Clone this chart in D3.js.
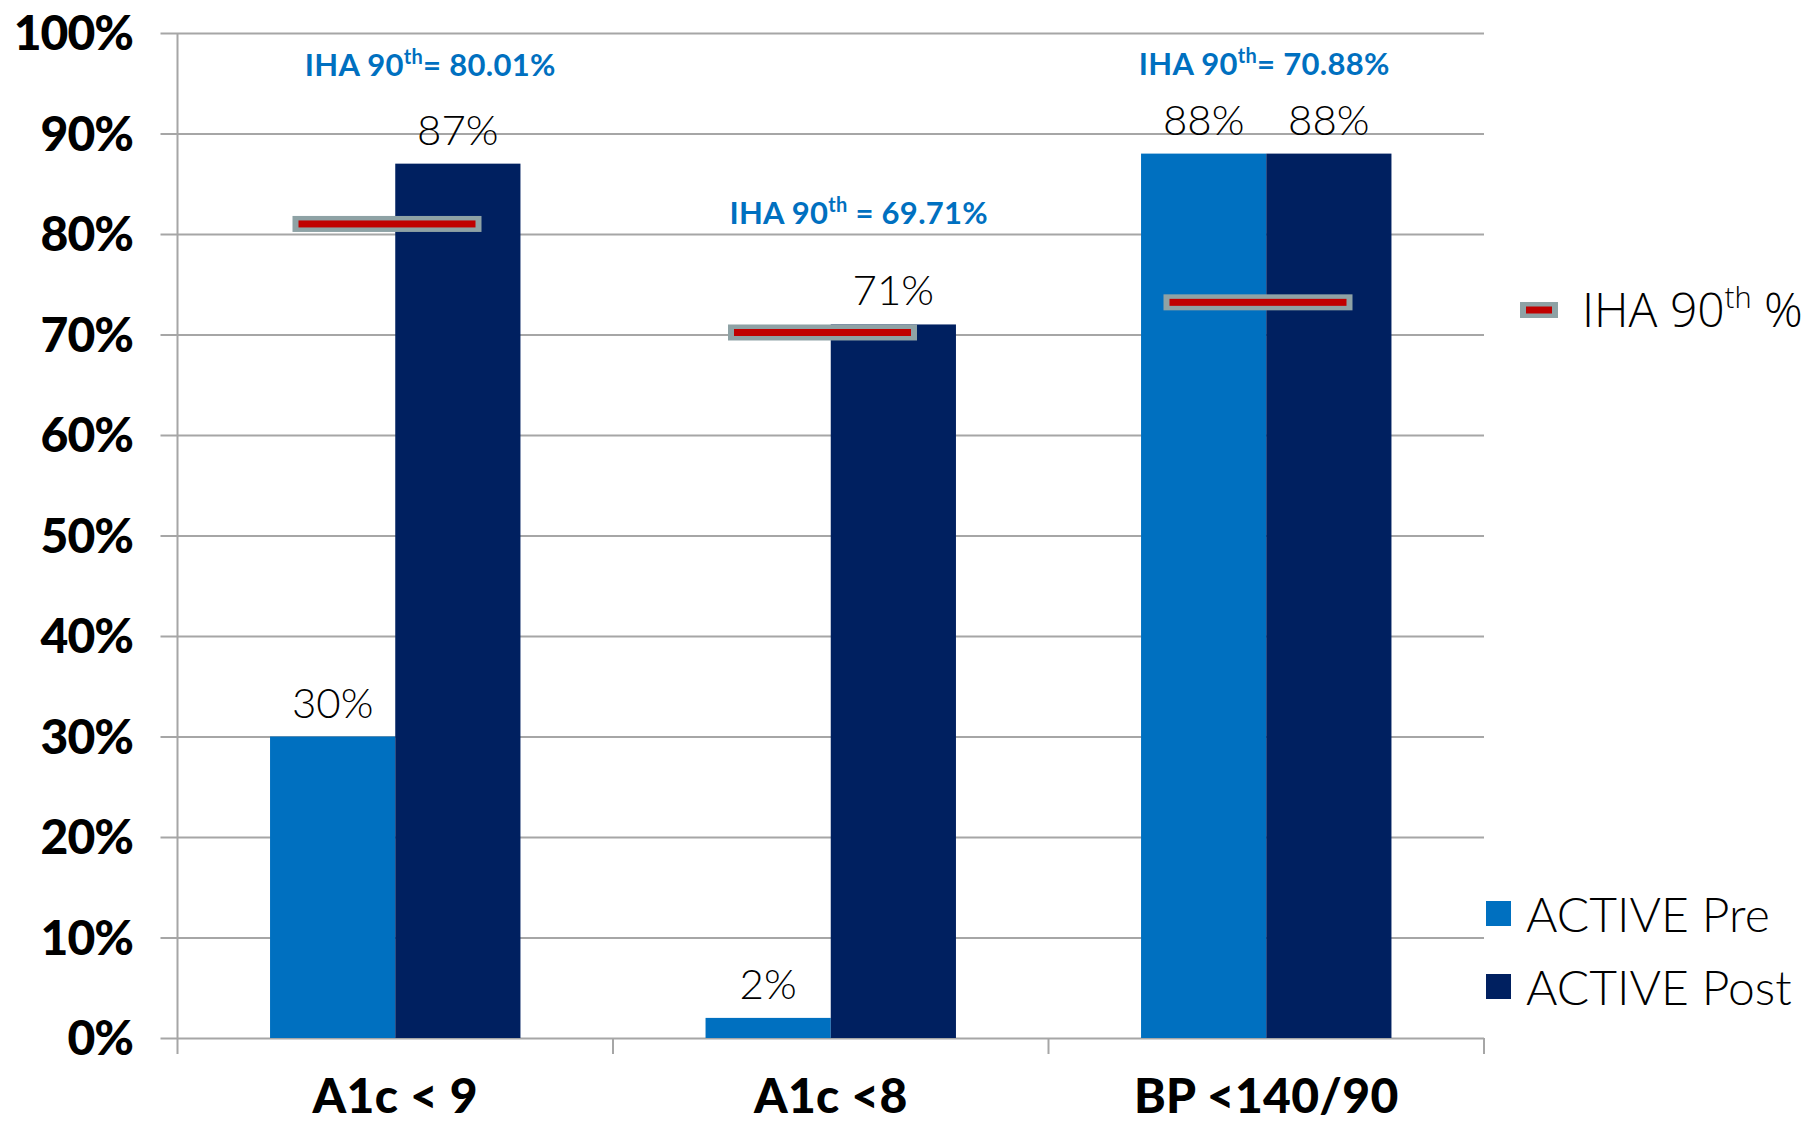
<!DOCTYPE html>
<html>
<head>
<meta charset="utf-8">
<script src="https://cdn.jsdelivr.net/npm/d3@7"></script>
<style>
  body { margin: 0; background: #fff; }
  svg { display: block; }
</style>
</head>
<body>
<svg id="chart" width="1811" height="1122"></svg>
<script>
// ---- data ----
const categories = ["A1c < 9", "A1c <8", "BP <140/90"];
const seriesNames = ["ACTIVE Pre", "ACTIVE Post"];
const preValues = [30, 2, 88];
const postValues = [87, 71, 88];
const ihaLinePositions = [81.0, 70.2, 73.2];
const ihaLabelPrefix = ["= ", " = ", "= "];
const ihaLabelValues = ["80.01%", "69.71%", "70.88%"];
const yTicks = [0, 10, 20, 30, 40, 50, 60, 70, 80, 90, 100];
const legendLineLabel = "IHA 90";

// ---- layout ----
const W = 1811, H = 1122;
const plot = { left: 177.5, right: 1484, top: 33, bottom: 1038 };
const colors = { pre: "#0070c0", post: "#002060", grid: "#a6a6a6", blue: "#0070c0", red: "#c00000", halo: "#8ea2a5" };
const annotLayout = [ { dx: 35, y: 76 }, { dx: 28, y: 224 }, { dx: -2, y: 75 } ];

const svg = d3.select("#chart");

const y = d3.scaleLinear().domain([0, 100]).range([plot.bottom, plot.top]);
const x0 = d3.scaleBand().domain(categories).range([plot.left, plot.right]).padding(0);
const bw = x0.bandwidth();
const groupW = bw * 0.575;
const x1 = d3.scaleBand().domain(seriesNames).range([(bw - groupW) / 2, (bw + groupW) / 2]).padding(0);

// gridlines (with left tick extension)
const gridAxis = d3.axisLeft(y).tickValues(yTicks).tickSize(-(plot.right - plot.left)).tickFormat("");
const gg = svg.append("g").attr("transform", `translate(${plot.left},0)`).call(gridAxis);
gg.select(".domain").remove();
gg.selectAll(".tick line").attr("stroke", colors.grid).attr("stroke-width", 2).attr("x1", -17);

// y axis line
svg.append("line").attr("x1", plot.left).attr("x2", plot.left).attr("y1", plot.top).attr("y2", plot.bottom + 16)
  .attr("stroke", colors.grid).attr("stroke-width", 2);

// category boundary ticks
const bounds = categories.map(c => x0(c) + bw);
svg.selectAll(".ctick").data(bounds).join("line")
  .attr("x1", d => d).attr("x2", d => d).attr("y1", plot.bottom).attr("y2", plot.bottom + 16)
  .attr("stroke", colors.grid).attr("stroke-width", 2);

// y tick labels
svg.selectAll(".ylab").data(yTicks).join("text")
  .attr("x", 133).attr("y", d => y(d)).attr("dy", "0.36em")
  .attr("text-anchor", "end")
  .attr("font-family", "Lato, sans-serif").attr("font-weight", 900)
  .attr("font-size", 48).attr("letter-spacing", -1).attr("fill", "#000")
  .text(d => d + "%");

// bars
const rows = categories.map((c, i) => ({ cat: c, vals: [preValues[i], postValues[i]] }));
const groups = svg.selectAll(".grp").data(rows).join("g").attr("transform", d => `translate(${x0(d.cat)},0)`);
groups.selectAll("rect").data(d => d.vals.map((v, j) => ({ v, s: seriesNames[j] }))).join("rect")
  .attr("x", d => x1(d.s)).attr("width", x1.bandwidth())
  .attr("y", d => y(d.v)).attr("height", d => y(0) - y(d.v))
  .attr("fill", (d, j) => j === 0 ? colors.pre : colors.post);

// value labels
groups.selectAll(".vlab").data(d => d.vals.map((v, j) => ({ v, s: seriesNames[j] }))).join("text")
  .attr("class", "vlab")
  .attr("x", d => x1(d.s) + x1.bandwidth() / 2).attr("y", d => y(d.v) - 19)
  .attr("text-anchor", "middle")
  .attr("font-family", "Lato, sans-serif").attr("font-weight", 300)
  .attr("font-size", 42).attr("fill", "#000")
  .text(d => d.v + "%");

// IHA lines
categories.forEach((c, i) => {
  const xs = x0(c) + 115, xe = x0(c) + 304, yy = y(ihaLinePositions[i]);
  svg.append("rect").attr("x", xs).attr("y", yy - 8).attr("width", xe - xs).attr("height", 16).attr("fill", colors.halo);
  svg.append("rect").attr("x", xs + 6).attr("y", yy - 3.5).attr("width", xe - xs - 12).attr("height", 7).attr("fill", colors.red);
});

// IHA annotations
categories.forEach((c, i) => {
  const t = svg.append("text")
    .attr("x", x0(c) + bw / 2 + annotLayout[i].dx).attr("y", annotLayout[i].y)
    .attr("text-anchor", "middle")
    .attr("font-family", "Lato, sans-serif").attr("font-weight", 700)
    .attr("font-size", 31).attr("letter-spacing", 0.3).attr("fill", colors.blue);
  t.append("tspan").text("IHA 90");
  t.append("tspan").attr("font-size", 20).attr("dy", -12).text("th");
  t.append("tspan").attr("dy", 12).text(ihaLabelPrefix[i] + ihaLabelValues[i]);
});

// category labels
svg.selectAll(".clab").data(categories).join("text")
  .attr("x", d => x0(d) + bw / 2).attr("y", 1113)
  .attr("text-anchor", "middle")
  .attr("font-family", "Lato, sans-serif").attr("font-weight", 900)
  .attr("font-size", 48).attr("letter-spacing", 0.3).attr("fill", "#000")
  .text(d => d);

// legend: IHA line
svg.append("rect").attr("x", 1520).attr("y", 302).attr("width", 38).attr("height", 16).attr("fill", colors.halo);
svg.append("rect").attr("x", 1526).attr("y", 306.5).attr("width", 26).attr("height", 7).attr("fill", colors.red);
const lt = svg.append("text").attr("x", 1582).attr("y", 327)
  .attr("font-family", "'Open Sans', sans-serif").attr("font-weight", 300)
  .attr("font-size", 48).attr("fill", "#000");
lt.append("tspan").text(legendLineLabel);
lt.append("tspan").attr("font-size", 29).attr("dy", -19).text("th");
lt.append("tspan").attr("dy", 19).text(" %");

// legend: series
const legY = [901, 974];
seriesNames.forEach((s, i) => {
  svg.append("rect").attr("x", 1486).attr("y", legY[i]).attr("width", 25).attr("height", 25)
    .attr("fill", i === 0 ? colors.pre : colors.post);
  svg.append("text").attr("x", 1526).attr("y", legY[i] + 31)
    .attr("font-family", "Lato, sans-serif").attr("font-weight", 300)
    .attr("font-size", 48).attr("fill", "#000").text(s);
});
</script>
</body>
</html>
